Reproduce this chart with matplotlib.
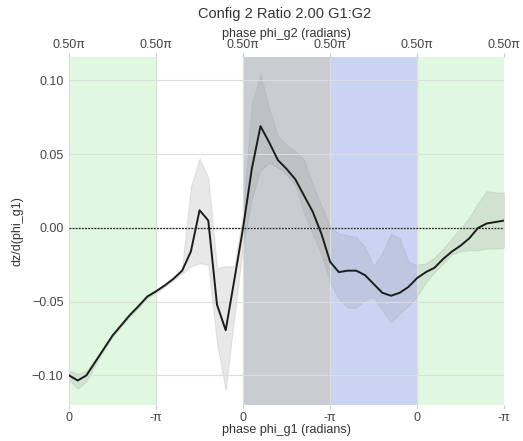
import numpy as np
import matplotlib.pyplot as plt

plt.rcParams['font.family'] = ['Liberation Sans', 'DejaVu Sans']

# phase samples along phi_g1 (axis units, 5 half-turns)
x = np.arange(51) / 10.0

mean = [-0.100, -0.1035, -0.100, -0.091, -0.082, -0.073, -0.066, -0.059, -0.053, -0.0465,
        -0.043, -0.039, -0.0345, -0.029, -0.016, 0.012, 0.005, -0.052, -0.0694, -0.035,
        0.000, 0.040, 0.069, 0.058, 0.046, 0.040, 0.033, 0.022, 0.011, -0.004,
        -0.023, -0.030, -0.029, -0.029, -0.032, -0.038, -0.044, -0.046, -0.044, -0.040,
        -0.034, -0.030, -0.027, -0.021, -0.016, -0.012, -0.007, 0.000, 0.003, 0.004,
        0.005]

upper = [-0.097, -0.099, -0.097, -0.089, -0.081, -0.072, -0.065, -0.058, -0.052, -0.0455,
         -0.042, -0.038, -0.0335, -0.027, 0.028, 0.047, 0.034, -0.027, -0.026, -0.026,
         0.010, 0.085, 0.104, 0.081, 0.062, 0.056, 0.052, 0.046, 0.030, 0.015,
         0.001, -0.004, -0.005, -0.006, -0.013, -0.026, -0.017, -0.004, -0.007, -0.023,
         -0.025, -0.024, -0.020, -0.014, -0.007, 0.000, 0.007, 0.017, 0.025, 0.024,
         0.024]

lower = [-0.103, -0.109, -0.104, -0.093, -0.083, -0.074, -0.067, -0.060, -0.054, -0.0475,
         -0.044, -0.040, -0.0355, -0.031, -0.026, -0.024, -0.025, -0.078, -0.110, -0.060,
         -0.012, 0.020, 0.039, 0.044, 0.041, 0.036, 0.029, 0.010, -0.004, -0.018,
         -0.037, -0.048, -0.054, -0.054, -0.049, -0.047, -0.056, -0.064, -0.058, -0.053,
         -0.046, -0.037, -0.030, -0.024, -0.018, -0.016, -0.015, -0.015, -0.014, -0.014,
         -0.0135]

bottom_ticks = ['0', '-π', '0', '-π', '0', '-π']
top_ticks = ['0.50π'] * 6

# shaded phase regions
regions = [(0, 1, '#e0f8e0'), (1, 2, '#ffffff'), (2, 3, '#c9cdd1'),
           (3, 4, '#c9d4f3'), (4, 5, '#e0f8e0')]

fig = plt.figure(figsize=(5.23, 4.41), dpi=100)
ax = fig.add_axes([0.132, 0.082, 0.832, 0.789])

for a, b, c in regions:
    ax.axvspan(a, b, color=c, zorder=0, lw=0)

ax.fill_between(x, lower, upper, color='#999999', alpha=0.22, lw=0.8, zorder=2)
ax.plot(x, mean, color='#1c1c1c', lw=1.4, zorder=3)
ax.axhline(0, color='#222222', lw=0.9, ls=(0, (1.5, 1)), zorder=3)

ax.set_xlim(0, 5)
ax.set_ylim(-0.12, 0.116)
ax.set_xticks(range(6))
ax.set_xticklabels(bottom_ticks)
ax.set_yticks([-0.10, -0.05, 0.00, 0.05, 0.10])
ax.set_yticklabels(['\u22120.10', '\u22120.05', '0.00', '0.05', '0.10'])
ax.grid(True, color='#dddddd', lw=0.8, zorder=1)
ax.set_axisbelow(False)
for s in ax.spines.values():
    s.set_visible(False)
ax.tick_params(axis='x', length=3, color='#cccccc', labelsize=9, labelcolor='#444444', pad=2)
ax.tick_params(axis='y', length=0, labelsize=9, labelcolor='#444444', pad=4)
ax.set_xlabel('phase phi_g1 (radians)', fontsize=9, color='#333333', labelpad=0)
ax.set_ylabel('dz/d(phi_g1)', fontsize=9, color='#333333', labelpad=6)

top = ax.twiny()
top.set_xlim(0, 5)
top.set_xticks(range(6))
top.set_xticklabels(top_ticks)
for s in top.spines.values():
    s.set_visible(False)
top.tick_params(axis='x', length=3, color='#cccccc', labelsize=9, labelcolor='#444444', pad=1)
top.set_xlabel('phase phi_g2 (radians)', fontsize=9, color='#333333', labelpad=2)

fig.suptitle('Config 2 Ratio 2.00 G1:G2', x=0.545, y=0.985, fontsize=10.5, color='#333333')

fig.savefig('out.png', dpi=100)
